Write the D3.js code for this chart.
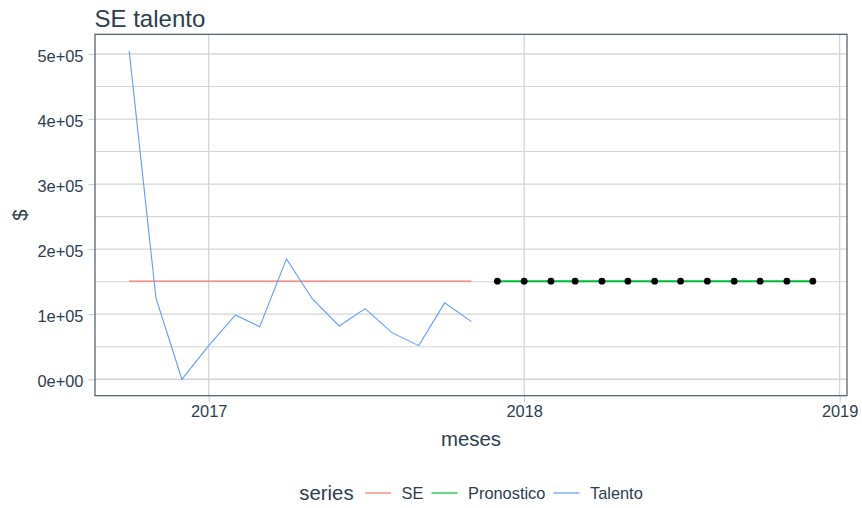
<!DOCTYPE html>
<html>
<head>
<meta charset="utf-8">
<script src="https://cdn.jsdelivr.net/npm/d3@7"></script>
<style>
  body { margin: 0; background: #ffffff; }
  svg text { font-family: "Liberation Sans", Arial, sans-serif; fill: #2c3e50; }
</style>
</head>
<body>
<svg id="chart" width="862" height="508"></svg>
<script>
// Monthly history of "Talento"
const talentoMonths = ["2016-10-01","2016-11-01","2016-12-01","2017-01-01","2017-02-01","2017-03-01","2017-04-01",
                       "2017-05-01","2017-06-01","2017-07-01","2017-08-01","2017-09-01","2017-10-01","2017-11-01"];
const talentoValues = [505000,124600,0,51700,98900,80900,185100,123500,82000,108600,71700,51700,117400,88600];

// SE level over the historical period
const seValues = [150800,150800,150800,150800,150800,150800,150800,150800,150800,150800,150800,150800,150800,150800];

// Forecast months and values
const pronosticoMonths = ["2017-12-01","2018-01-01","2018-02-01","2018-03-01","2018-04-01","2018-05-01","2018-06-01",
                          "2018-07-01","2018-08-01","2018-09-01","2018-10-01","2018-11-01","2018-12-01"];
const pronosticoValues = [150800,150800,150800,150800,150800,150800,150800,150800,150800,150800,150800,150800,150800];

const yTicks = [0,100000,200000,300000,400000,500000];
const yMinorTicks = [50000,150000,250000,350000,450000];
const xTicks = ["2017-01-01","2018-01-01","2019-01-01"];

const seriesNames = ["SE","Pronostico","Talento"];
const seriesColors = ["#F8766D","#00BA38","#619CFF"];

const parse = d3.timeParse("%Y-%m-%d");
const svg = d3.select("#chart");

const panel = { left: 95, right: 847, top: 34.3, bottom: 395.7 };
const ink = "#2c3e50";
const gridColor = "#d4d4d4";

const talento = talentoMonths.map((m, i) => ({ date: parse(m), value: talentoValues[i] }));
const se = talentoMonths.map((m, i) => ({ date: parse(m), value: seValues[i] }));
const pron = pronosticoMonths.map((m, i) => ({ date: parse(m), value: pronosticoValues[i] }));
const all = talento.concat(se, pron);

// 5% expansion on both scales
const tExt = d3.extent(all, d => +d.date);
const tPad = (tExt[1] - tExt[0]) * 0.05;
const x = d3.scaleTime()
  .domain([new Date(tExt[0] - tPad), new Date(tExt[1] + tPad)])
  .range([panel.left, panel.right]);

const vExt = d3.extent(all, d => d.value);
const vPad = (vExt[1] - vExt[0]) * 0.05;
const y = d3.scaleLinear()
  .domain([vExt[0] - vPad, vExt[1] + vPad])
  .range([panel.bottom, panel.top]);

// Grid
const grid = svg.append("g");
grid.selectAll("line.minor").data(yMinorTicks).join("line")
  .attr("x1", panel.left).attr("x2", panel.right)
  .attr("y1", d => y(d)).attr("y2", d => y(d))
  .attr("stroke", gridColor).attr("stroke-width", 1.1);
grid.selectAll("line.majory").data(yTicks).join("line")
  .attr("x1", panel.left).attr("x2", panel.right)
  .attr("y1", d => y(d)).attr("y2", d => y(d))
  .attr("stroke", gridColor).attr("stroke-width", 1.3);
grid.selectAll("line.majorx").data(xTicks).join("line")
  .attr("x1", d => x(parse(d))).attr("x2", d => x(parse(d)))
  .attr("y1", panel.top).attr("y2", panel.bottom)
  .attr("stroke", gridColor).attr("stroke-width", 1.3);

// Axes
const sci = v => {
  if (v === 0) return "0e+00";
  const s = d3.format(".0e")(v);
  const [mant, exp] = s.split("e");
  const sign = exp[0];
  const digits = exp.slice(1).padStart(2, "0");
  return mant + "e" + sign + digits;
};

const yAxis = svg.append("g")
  .attr("transform", `translate(${panel.left},0)`)
  .call(d3.axisLeft(y).tickValues(yTicks).tickFormat(sci).tickSize(6.5).tickPadding(5));
yAxis.select(".domain").remove();
yAxis.selectAll(".tick line").attr("stroke", "#c8c8c8").attr("stroke-width", 1);
yAxis.selectAll(".tick text").attr("font-size", "16.4px").attr("fill", ink).attr("dy", "0.45em")
  .style("font-family", "'Liberation Sans', Arial, sans-serif");

const xAxis = svg.append("g")
  .attr("transform", `translate(0,${panel.bottom})`)
  .call(d3.axisBottom(x).tickValues(xTicks.map(parse)).tickFormat(d3.timeFormat("%Y")).tickSize(6.5).tickPadding(3.5));
xAxis.select(".domain").remove();
xAxis.selectAll(".tick line").attr("stroke", "#c8c8c8").attr("stroke-width", 1);
xAxis.selectAll(".tick text").attr("font-size", "16.4px").attr("fill", ink)
  .style("font-family", "'Liberation Sans', Arial, sans-serif");

// Series lines
const line = d3.line().x(d => x(d.date)).y(d => y(d.value));
svg.append("path").datum(se).attr("d", line)
  .attr("fill", "none").attr("stroke", seriesColors[0]).attr("stroke-width", 1.4);
svg.append("path").datum(talento).attr("d", line)
  .attr("fill", "none").attr("stroke", seriesColors[2]).attr("stroke-width", 1.1);
svg.append("path").datum(pron).attr("d", line)
  .attr("fill", "none").attr("stroke", seriesColors[1]).attr("stroke-width", 2);
svg.append("g").selectAll("circle").data(pron).join("circle")
  .attr("cx", d => x(d.date)).attr("cy", d => y(d.value))
  .attr("r", 3.4).attr("fill", "#000000");

// Panel border
svg.append("rect")
  .attr("x", panel.left).attr("y", panel.top)
  .attr("width", panel.right - panel.left).attr("height", panel.bottom - panel.top)
  .attr("fill", "none").attr("stroke", "#4a5866").attr("stroke-width", 1.2);

// Titles
svg.append("text").attr("x", 94.5).attr("y", 27)
  .attr("font-size", "24px").text("SE talento");
svg.append("text").attr("x", (panel.left + panel.right) / 2).attr("y", 446)
  .attr("text-anchor", "middle").attr("font-size", "20.4px").text("meses");
svg.append("text")
  .attr("transform", `translate(27,${(panel.top + panel.bottom) / 2}) rotate(-90)`)
  .attr("text-anchor", "middle").attr("font-size", "20.4px").text("$");

// Legend
const legend = svg.append("g");
const legY = 493;
const title = legend.append("text").attr("x", 0).attr("y", legY).attr("dy", "0.35em")
  .attr("font-size", "20.4px").text("series");
let cursor = title.node().getComputedTextLength() + 11.5;
seriesNames.forEach((name, i) => {
  legend.append("line")
    .attr("x1", cursor).attr("x2", cursor + 26)
    .attr("y1", legY).attr("y2", legY)
    .attr("stroke", seriesColors[i]).attr("stroke-width", 1.2);
  const t = legend.append("text").attr("x", cursor + 36.5).attr("y", legY).attr("dy", "0.35em")
    .attr("font-size", "16.4px").text(name);
  cursor += 36.5 + t.node().getComputedTextLength() + 8;
});
const legW = cursor - 8;
legend.attr("transform", `translate(${(panel.left + panel.right) / 2 - legW / 2},0)`);
</script>
</body>
</html>
